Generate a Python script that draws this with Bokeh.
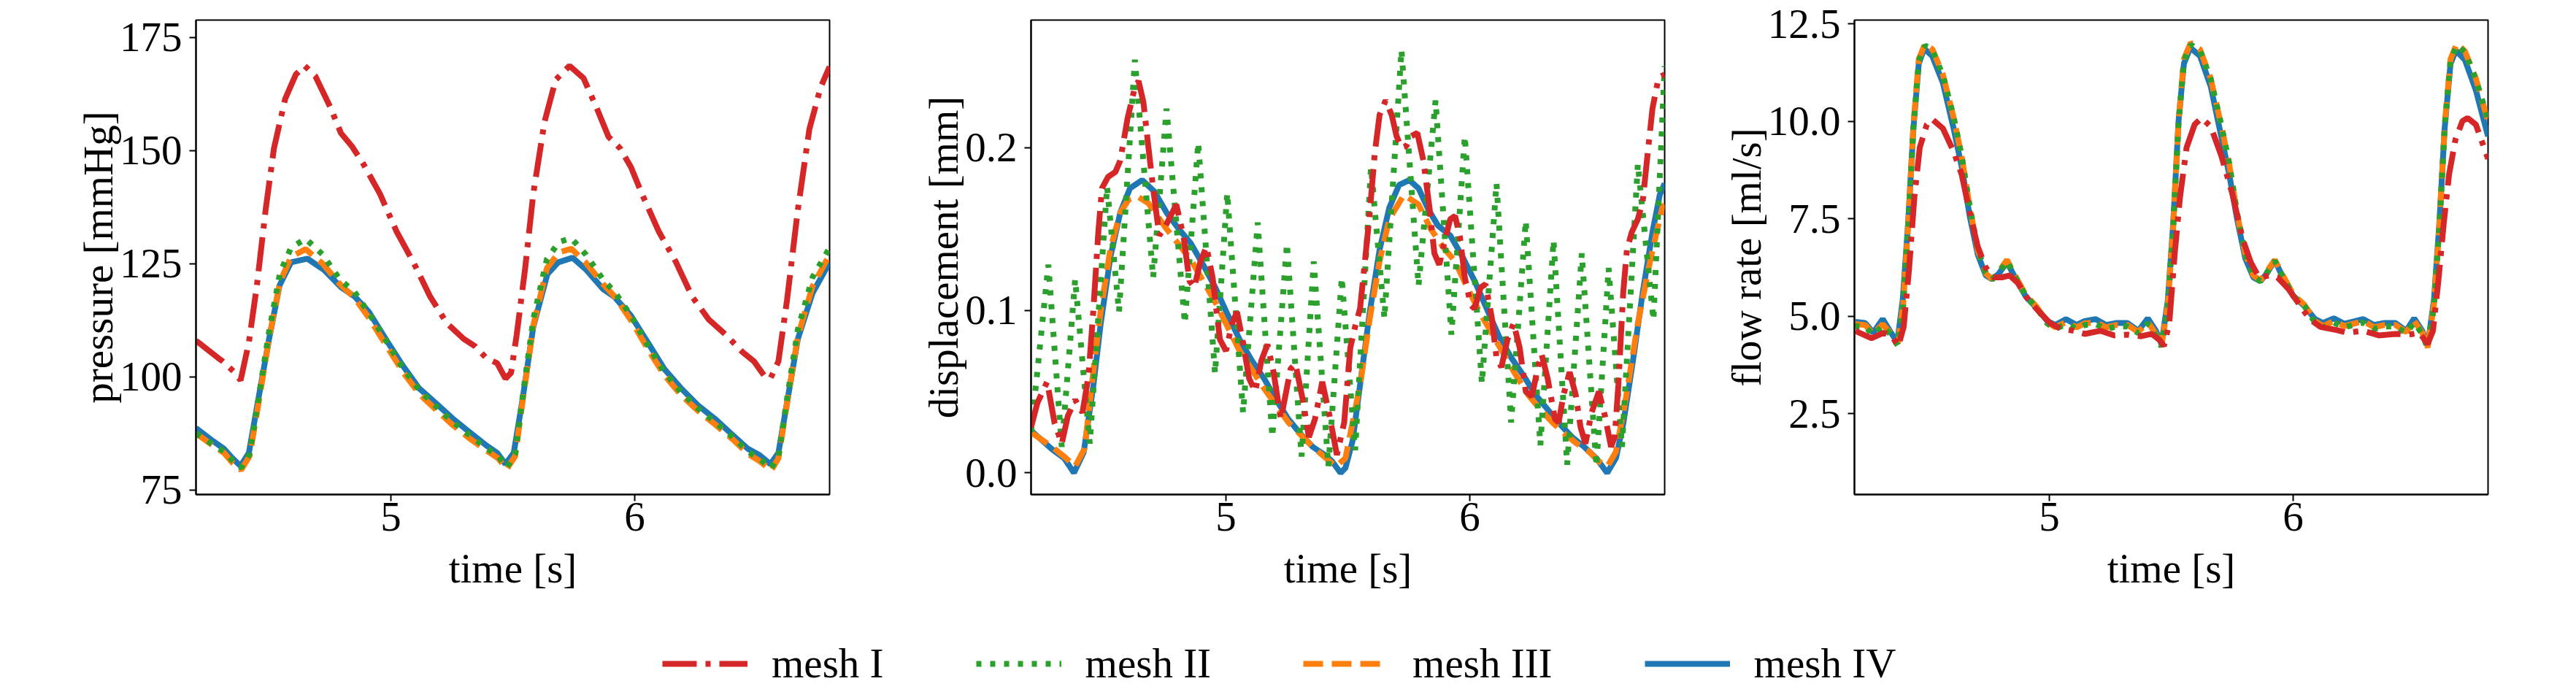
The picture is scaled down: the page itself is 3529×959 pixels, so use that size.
from bokeh.plotting import figure
from bokeh.models import Range1d, FixedTicker, NumeralTickFormatter, Legend, LegendItem
from bokeh.layouts import column, row
from bokeh.embed import file_html
from bokeh.resources import INLINE

FONT = "Liberation Serif"
FS = "57px"

C_I, C_II, C_III, C_IV = "#d62728", "#2ca02c", "#ff7f0e", "#1f77b4"
LABELS = ["mesh I", "mesh II", "mesh III", "mesh IV"]
DASHES = ["47 12 7 12", "7 12", "27 12", "solid"]
LW = 8

time_ticks = [5, 6]

# ---------------- pressure [mmHg] ----------------
pressure_t_I = [4.20, 4.29, 4.31, 4.36, 4.383, 4.417, 4.45, 4.486, 4.52, 4.566, 4.61, 4.646, 4.69, 4.75,
                4.795, 4.84, 4.886, 4.955, 5.024, 5.092, 5.161, 5.23, 5.298, 5.344, 5.39, 5.436, 5.47,
                5.493, 5.516, 5.55, 5.584, 5.63, 5.676, 5.733, 5.79, 5.848, 5.893, 5.94, 5.985, 6.03,
                6.10, 6.17, 6.236, 6.305, 6.374, 6.442, 6.49, 6.535, 6.557, 6.59, 6.625, 6.67, 6.717,
                6.763, 6.80]
pressure_I = [108.0, 104.2, 103.4, 100.9, 99.2, 107.6, 120.2, 137.0, 150.5, 161.4, 166.8, 168.7, 166.4,
              159.7, 153.8, 150.9, 147.1, 140.4, 132.0, 125.3, 117.7, 111.8, 108.4, 106.8, 104.2, 103.0,
              99.6, 100.9, 109.3, 123.6, 140.4, 156.3, 165.6, 168.7, 166.0, 158.9, 153.0, 150.5, 146.3,
              140.4, 132.0, 125.3, 117.7, 112.6, 109.3, 105.5, 103.4, 100.0, 99.6, 103.4, 116.8, 137.0,
              154.7, 163.9, 168.5]

pressure_t_II = [4.20, 4.27, 4.315, 4.35, 4.385, 4.42, 4.45, 4.50, 4.545, 4.59, 4.65, 4.72, 4.79, 4.85,
                 4.91, 4.98, 5.05, 5.12, 5.19, 5.25, 5.32, 5.39, 5.44, 5.475, 5.51, 5.54, 5.585, 5.64,
                 5.69, 5.74, 5.80, 5.87, 5.92, 5.985, 6.05, 6.12, 6.19, 6.26, 6.33, 6.40, 6.465, 6.51,
                 6.56, 6.59, 6.625, 6.67, 6.73, 6.80]
pressure_II = [87.5, 85.0, 83.5, 81.5, 79.9, 83.0, 93.0, 110.0, 123.0, 128.5, 130.5, 127.0, 121.5, 118.8,
               114.0, 108.0, 101.8, 96.8, 93.2, 90.2, 87.2, 84.3, 82.5, 80.0, 83.0, 95.5, 113.0, 126.0,
               129.8, 130.6, 127.0, 121.5, 118.6, 113.5, 107.3, 101.2, 96.6, 93.0, 90.0, 86.8, 83.5, 82.0,
               79.8, 82.5, 95.0, 110.5, 122.0, 128.5]

pressure_t_III = pressure_t_II
pressure_III = [87.5, 84.8, 83.2, 81.0, 79.4, 82.5, 92.0, 108.5, 121.0, 126.5, 128.2, 125.0, 120.5, 117.5,
                113.0, 107.0, 101.0, 96.0, 92.5, 89.5, 86.5, 83.8, 82.0, 79.6, 82.5, 94.5, 111.5, 124.0,
                127.5, 128.3, 125.2, 120.5, 117.6, 112.5, 106.5, 100.5, 96.0, 92.5, 89.5, 86.3, 83.0, 81.5,
                79.3, 82.0, 94.0, 109.0, 120.0, 127.0]

pressure_t_IV = [4.20, 4.27, 4.315, 4.35, 4.383, 4.417, 4.45, 4.50, 4.543, 4.59, 4.657, 4.726, 4.795,
                 4.852, 4.91, 4.978, 5.047, 5.115, 5.184, 5.253, 5.32, 5.39, 5.436, 5.47, 5.504, 5.54,
                 5.584, 5.642, 5.687, 5.745, 5.802, 5.87, 5.916, 5.985, 6.054, 6.122, 6.19, 6.26, 6.328,
                 6.397, 6.465, 6.51, 6.557, 6.59, 6.625, 6.67, 6.73, 6.80]
pressure_IV = [88.7, 85.8, 84.1, 82.0, 80.3, 83.2, 93.3, 108.4, 120.2, 125.3, 126.1, 123.6, 119.8, 117.7,
               114.3, 108.4, 102.6, 97.5, 94.2, 90.8, 87.9, 84.9, 83.2, 80.7, 83.2, 95.0, 111.0, 122.7,
               125.3, 126.3, 123.6, 119.4, 117.7, 113.5, 107.6, 101.7, 97.5, 93.7, 90.8, 87.4, 84.1, 82.8,
               80.7, 83.2, 94.2, 108.4, 118.5, 125.3]

# ---------------- displacement [mm] ----------------
disp_t_I = [4.200, 4.226, 4.266, 4.296, 4.326, 4.351, 4.381, 4.411, 4.436, 4.456, 4.476, 4.491, 4.516,
            4.546, 4.566, 4.596, 4.626, 4.641, 4.661, 4.681, 4.701, 4.726, 4.746, 4.766, 4.796, 4.826,
            4.850, 4.870, 4.895, 4.920, 4.945, 4.975, 5.000, 5.025, 5.045, 5.070, 5.095, 5.120, 5.145,
            5.170, 5.195, 5.225, 5.265, 5.285, 5.315, 5.340, 5.365, 5.395, 5.425, 5.455, 5.485, 5.510,
            5.530, 5.550, 5.570, 5.590, 5.610, 5.630, 5.655, 5.680, 5.700, 5.720, 5.740, 5.760, 5.785,
            5.810, 5.835, 5.855, 5.875, 5.895, 5.920, 5.940, 5.960, 5.980, 6.005, 6.020, 6.045, 6.065,
            6.090, 6.110, 6.130, 6.155, 6.180, 6.205, 6.230, 6.255, 6.280, 6.295, 6.320, 6.350, 6.365,
            6.385, 6.410, 6.435, 6.455, 6.475, 6.500, 6.530, 6.555, 6.580, 6.595, 6.610, 6.630, 6.645,
            6.665, 6.690, 6.710, 6.730, 6.750, 6.775, 6.800]
disp_I = [0.028, 0.043, 0.056, 0.031, 0.018, 0.035, 0.045, 0.037, 0.060, 0.101, 0.148, 0.175, 0.182,
          0.185, 0.192, 0.218, 0.237, 0.241, 0.228, 0.201, 0.175, 0.146, 0.150, 0.156, 0.165, 0.145,
          0.118, 0.114, 0.130, 0.139, 0.120, 0.082, 0.075, 0.092, 0.099, 0.080, 0.058, 0.050, 0.069,
          0.079, 0.062, 0.033, 0.064, 0.067, 0.045, 0.022, 0.033, 0.056, 0.035, 0.011, 0.031, 0.077,
          0.090, 0.101, 0.130, 0.160, 0.196, 0.220, 0.229, 0.220, 0.207, 0.200, 0.201, 0.207, 0.209,
          0.192, 0.163, 0.135, 0.128, 0.141, 0.156, 0.158, 0.145, 0.120, 0.103, 0.101, 0.114, 0.116,
          0.096, 0.071, 0.065, 0.082, 0.092, 0.077, 0.050, 0.047, 0.065, 0.073, 0.058, 0.033, 0.031,
          0.048, 0.062, 0.048, 0.028, 0.018, 0.037, 0.050, 0.035, 0.016, 0.022, 0.054, 0.111, 0.137,
          0.148, 0.156, 0.167, 0.196, 0.224, 0.243, 0.245]

disp_t_II = [4.200, 4.271, 4.326, 4.381, 4.441, 4.512, 4.561, 4.626, 4.701, 4.756, 4.831, 4.886, 4.955,
             5.005, 5.070, 5.130, 5.190, 5.250, 5.310, 5.360, 5.420, 5.475, 5.530, 5.595, 5.650, 5.720,
             5.790, 5.860, 5.925, 5.980, 6.050, 6.110, 6.170, 6.230, 6.290, 6.344, 6.400, 6.460, 6.520,
             6.570, 6.625, 6.690, 6.754, 6.800]
disp_II = [0.025, 0.128, 0.016, 0.119, 0.018, 0.176, 0.099, 0.254, 0.120, 0.224, 0.092, 0.203, 0.061,
           0.172, 0.037, 0.154, 0.022, 0.141, 0.010, 0.130, 0.004, 0.120, 0.014, 0.188, 0.095, 0.260,
           0.115, 0.229, 0.085, 0.207, 0.055, 0.178, 0.031, 0.155, 0.017, 0.143, 0.005, 0.135, 0.004,
           0.126, 0.016, 0.190, 0.094, 0.250]

disp_t_III = [4.200, 4.286, 4.336, 4.381, 4.420, 4.456, 4.486, 4.526, 4.566, 4.600, 4.636, 4.680, 4.756,
              4.856, 4.956, 5.056, 5.156, 5.256, 5.356, 5.450, 5.490, 5.550, 5.590, 5.630, 5.670, 5.730,
              5.790, 5.840, 5.890, 5.940, 5.990, 6.040, 6.090, 6.140, 6.190, 6.240, 6.290, 6.340, 6.390,
              6.440, 6.490, 6.530, 6.565, 6.600, 6.640, 6.690, 6.740, 6.790, 6.800]
disp_III = [0.025, 0.016, 0.010, 0.004, 0.015, 0.063, 0.100, 0.138, 0.160, 0.168, 0.170, 0.166, 0.150,
            0.131, 0.105, 0.075, 0.052, 0.031, 0.016, 0.004, 0.009, 0.054, 0.095, 0.130, 0.156, 0.171,
            0.165, 0.150, 0.139, 0.130, 0.114, 0.099, 0.086, 0.073, 0.060, 0.048, 0.039, 0.031, 0.024,
            0.018, 0.013, 0.007, 0.004, 0.013, 0.045, 0.092, 0.130, 0.163, 0.165]

disp_t_IV = [4.200, 4.286, 4.336, 4.376, 4.416, 4.456, 4.486, 4.526, 4.566, 4.606, 4.656, 4.706, 4.756,
             4.806, 4.856, 4.906, 4.956, 5.006, 5.056, 5.106, 5.156, 5.206, 5.256, 5.306, 5.356, 5.406,
             5.436, 5.470, 5.490, 5.520, 5.550, 5.590, 5.630, 5.670, 5.710, 5.752, 5.790, 5.830, 5.870,
             5.920, 5.970, 6.020, 6.070, 6.120, 6.170, 6.220, 6.270, 6.320, 6.370, 6.420, 6.470, 6.520,
             6.564, 6.600, 6.630, 6.670, 6.710, 6.750, 6.780, 6.800]
disp_IV = [0.026, 0.0145, 0.009, 0.000, 0.0126, 0.054, 0.092, 0.133, 0.160, 0.175, 0.180, 0.173, 0.160,
           0.150, 0.141, 0.128, 0.114, 0.0975, 0.082, 0.069, 0.058, 0.045, 0.033, 0.024, 0.016, 0.011,
           0.007, 0.000, 0.003, 0.020, 0.054, 0.099, 0.137, 0.163, 0.177, 0.180, 0.175, 0.162, 0.152,
           0.146, 0.133, 0.118, 0.101, 0.084, 0.071, 0.060, 0.048, 0.039, 0.030, 0.022, 0.016, 0.009,
           0.000, 0.009, 0.030, 0.069, 0.111, 0.148, 0.171, 0.178]

# ---------------- flow rate [ml/s] ----------------
flow_t_I = [4.204, 4.22, 4.27, 4.32, 4.354, 4.38, 4.402, 4.424, 4.446, 4.468, 4.497, 4.519, 4.563, 4.607,
            4.64, 4.673, 4.706, 4.739, 4.771, 4.804, 4.837, 4.87, 4.914, 4.958, 5.002, 5.046, 5.10,
            5.145, 5.21, 5.266, 5.32, 5.376, 5.42, 5.453, 5.47, 5.492, 5.514, 5.536, 5.563, 5.596,
            5.624, 5.662, 5.705, 5.75, 5.793, 5.826, 5.86, 5.903, 5.936, 5.98, 6.024, 6.068, 6.112,
            6.178, 6.222, 6.288, 6.354, 6.42, 6.475, 6.519, 6.552, 6.574, 6.596, 6.618, 6.64, 6.666,
            6.695, 6.716, 6.75, 6.80]
flow_I = [4.63, 4.58, 4.44, 4.58, 4.49, 4.24, 4.73, 6.20, 8.06, 9.33, 9.92, 10.06, 9.82, 9.23, 8.64,
          7.67, 6.79, 6.25, 6.00, 6.00, 6.05, 5.86, 5.42, 5.12, 4.83, 4.68, 4.63, 4.55, 4.63, 4.51, 4.53,
          4.49, 4.55, 4.39, 4.24, 4.83, 6.59, 8.06, 9.33, 9.92, 10.09, 9.87, 9.13, 8.16, 6.98, 6.39,
          6.00, 6.05, 6.00, 5.71, 5.32, 4.93, 4.73, 4.65, 4.58, 4.63, 4.51, 4.55, 4.53, 4.58, 4.29, 4.63,
          5.90, 7.37, 8.64, 9.53, 10.01, 10.09, 9.92, 9.04]

flow_t_II = [4.20, 4.244, 4.277, 4.316, 4.35, 4.378, 4.40, 4.42, 4.442, 4.464, 4.49, 4.52, 4.563, 4.607,
             4.64, 4.673, 4.706, 4.739, 4.765, 4.793, 4.826, 4.859, 4.903, 4.947, 4.991, 5.024, 5.068,
             5.112, 5.145, 5.19, 5.233, 5.277, 5.32, 5.365, 5.404, 5.437, 5.46, 5.486, 5.508, 5.53,
             5.552, 5.58, 5.618, 5.662, 5.705, 5.738, 5.771, 5.804, 5.837, 5.866, 5.892, 5.925, 5.958,
             6.002, 6.046, 6.09, 6.123, 6.167, 6.21, 6.288, 6.332, 6.376, 6.42, 6.464, 6.497, 6.53,
             6.552, 6.578, 6.60, 6.622, 6.646, 6.672, 6.705, 6.75, 6.80]
flow_II = [4.75, 4.74, 4.52, 4.76, 4.52, 4.25, 5.25, 7.25, 9.85, 11.55, 11.95, 11.82, 11.18, 10.12, 9.12,
           7.82, 6.72, 6.12, 5.95, 6.12, 6.42, 6.02, 5.52, 5.22, 4.82, 4.68, 4.80, 4.68, 4.78, 4.80, 4.68,
           4.74, 4.74, 4.57, 4.82, 4.52, 4.22, 5.25, 7.25, 9.95, 11.55, 11.97, 11.82, 11.08, 9.92, 8.92,
           7.62, 6.62, 6.02, 5.90, 6.12, 6.42, 6.02, 5.52, 5.27, 4.84, 4.72, 4.84, 4.72, 4.84, 4.68, 4.74,
           4.74, 4.57, 4.84, 4.55, 4.18, 5.25, 7.25, 9.85, 11.55, 11.95, 11.78, 11.08, 10.05]

flow_t_III = flow_t_II
flow_III = [4.80, 4.78, 4.55, 4.80, 4.55, 4.30, 5.30, 7.30, 9.90, 11.60, 12.00, 11.85, 11.20, 10.10, 9.10,
            7.80, 6.70, 6.10, 5.95, 6.15, 6.45, 6.05, 5.55, 5.25, 4.85, 4.72, 4.85, 4.72, 4.82, 4.85, 4.72,
            4.78, 4.78, 4.60, 4.85, 4.55, 4.25, 5.30, 7.30, 10.00, 11.60, 12.02, 11.85, 11.10, 9.90, 8.90,
            7.60, 6.60, 6.05, 5.92, 6.15, 6.45, 6.05, 5.55, 5.30, 4.88, 4.75, 4.88, 4.75, 4.88, 4.72, 4.78,
            4.78, 4.60, 4.88, 4.58, 4.20, 5.30, 7.30, 9.90, 11.60, 12.00, 11.80, 11.10, 10.00]

flow_t_IV = [4.204, 4.244, 4.277, 4.316, 4.35, 4.376, 4.398, 4.42, 4.442, 4.464, 4.486, 4.519, 4.563,
             4.607, 4.64, 4.673, 4.706, 4.739, 4.765, 4.793, 4.826, 4.859, 4.903, 4.947, 4.991, 5.024,
             5.068, 5.112, 5.145, 5.19, 5.233, 5.277, 5.32, 5.365, 5.404, 5.437, 5.46, 5.486, 5.508,
             5.53, 5.552, 5.578, 5.618, 5.662, 5.705, 5.738, 5.771, 5.804, 5.837, 5.866, 5.892, 5.925,
             5.958, 6.002, 6.046, 6.09, 6.123, 6.167, 6.21, 6.288, 6.332, 6.376, 6.42, 6.464, 6.497,
             6.53, 6.552, 6.578, 6.60, 6.622, 6.646, 6.668, 6.705, 6.75, 6.80]
flow_IV = [4.86, 4.83, 4.58, 4.93, 4.58, 4.34, 5.42, 7.37, 9.82, 11.48, 11.87, 11.68, 10.99, 9.82, 8.84,
           7.57, 6.59, 6.05, 5.95, 6.10, 6.39, 6.00, 5.51, 5.22, 4.88, 4.78, 4.93, 4.78, 4.88, 4.93, 4.78,
           4.83, 4.83, 4.63, 4.95, 4.63, 4.29, 5.42, 7.37, 10.01, 11.48, 11.89, 11.68, 10.90, 9.62, 8.64,
           7.47, 6.49, 6.00, 5.90, 6.10, 6.44, 6.00, 5.51, 5.27, 4.93, 4.83, 4.95, 4.81, 4.93, 4.78, 4.83,
           4.83, 4.63, 4.95, 4.63, 4.24, 5.42, 7.37, 9.82, 11.48, 11.82, 11.58, 10.80, 9.62]


def style_axis(ax):
    ax.axis_label_text_font = FONT
    ax.axis_label_text_font_size = FS
    ax.axis_label_text_font_style = "normal"
    ax.axis_label_text_color = "black"
    ax.major_label_text_font = FONT
    ax.major_label_text_font_size = FS
    ax.major_label_text_color = "black"
    ax.axis_line_color = "black"
    ax.axis_line_width = 2
    ax.major_tick_line_color = "black"
    ax.major_tick_line_width = 2
    ax.major_tick_out = 9
    ax.major_tick_in = 0
    ax.minor_tick_out = 0
    ax.minor_tick_in = 0


def make_panel(ylabel, yr, yticks, yfmt, series, border_left):
    p = figure(frame_width=868, frame_height=650, min_border_left=border_left, min_border_right=10,
               min_border_top=27, min_border_bottom=150, output_backend="svg", toolbar_location=None,
               x_range=Range1d(4.2, 6.8), y_range=Range1d(*yr))
    p.xgrid.visible = False
    p.ygrid.visible = False
    p.outline_line_color = "black"
    p.outline_line_width = 2
    p.outline_line_alpha = 1
    p.background_fill_color = "white"
    p.border_fill_color = "white"
    style_axis(p.xaxis[0])
    style_axis(p.yaxis[0])
    p.xaxis.ticker = FixedTicker(ticks=time_ticks)
    p.xaxis.axis_label = "time [s]"
    p.xaxis.major_label_standoff = 2
    p.xaxis.axis_label_standoff = 17
    p.yaxis.ticker = FixedTicker(ticks=yticks)
    p.yaxis.formatter = NumeralTickFormatter(format=yfmt)
    p.yaxis.axis_label = ylabel
    p.yaxis.major_label_standoff = 10
    p.yaxis.axis_label_standoff = -5
    # draw mesh IV first so mesh I ends on top
    for (t, v), color, dash in reversed(list(zip(series, [C_I, C_II, C_III, C_IV], DASHES))):
        p.line(t, v, line_color=color, line_width=LW, line_dash=dash)
    return p


pressure_series = [(pressure_t_I, pressure_I), (pressure_t_II, pressure_II),
                   (pressure_t_III, pressure_III), (pressure_t_IV, pressure_IV)]
p1 = make_panel("pressure [mmHg]", (74.0, 178.8), [75, 100, 125, 150, 175], "0", pressure_series, 268)
p2 = make_panel("displacement [mm]", (-0.0133, 0.2784), [0.0, 0.1, 0.2], "0.0",
                [(disp_t_I, disp_I), (disp_t_II, disp_II), (disp_t_III, disp_III), (disp_t_IV, disp_IV)], 266)
p3 = make_panel("flow rate [ml/s]", (0.43, 12.6), [2.5, 5.0, 7.5, 10.0, 12.5], "0.0",
                [(flow_t_I, flow_I), (flow_t_II, flow_II), (flow_t_III, flow_III), (flow_t_IV, flow_IV)], 250)

# legend strip: the series are drawn here outside the visible range, only their legend samples show
lf = figure(width=3418, height=116, min_border=0, output_backend="svg", toolbar_location=None,
            x_axis_type=None, y_axis_type=None, x_range=Range1d(0, 1), y_range=Range1d(0, 1))
lf.outline_line_color = None
lf.xgrid.visible = False
lf.ygrid.visible = False
items = []
for lab, (t, v), color, dash in zip(LABELS, pressure_series, [C_I, C_II, C_III, C_IV], DASHES):
    r = lf.line(x=t, y=v, line_color=color, line_width=LW, line_dash=dash)
    items.append(LegendItem(label=lab, renderers=[r]))
leg = Legend(items=items, orientation="horizontal", location=(907, 2), glyph_width=117, glyph_height=20,
             label_standoff=33, spacing=126, padding=0, margin=0, border_line_alpha=0,
             background_fill_alpha=0, label_text_font=FONT, label_text_font_size=FS,
             label_text_color="black")
lf.add_layout(leg)

layout = column(row(p1, p2, p3), lf)
open("out.html", "w").write(file_html(layout, INLINE))
